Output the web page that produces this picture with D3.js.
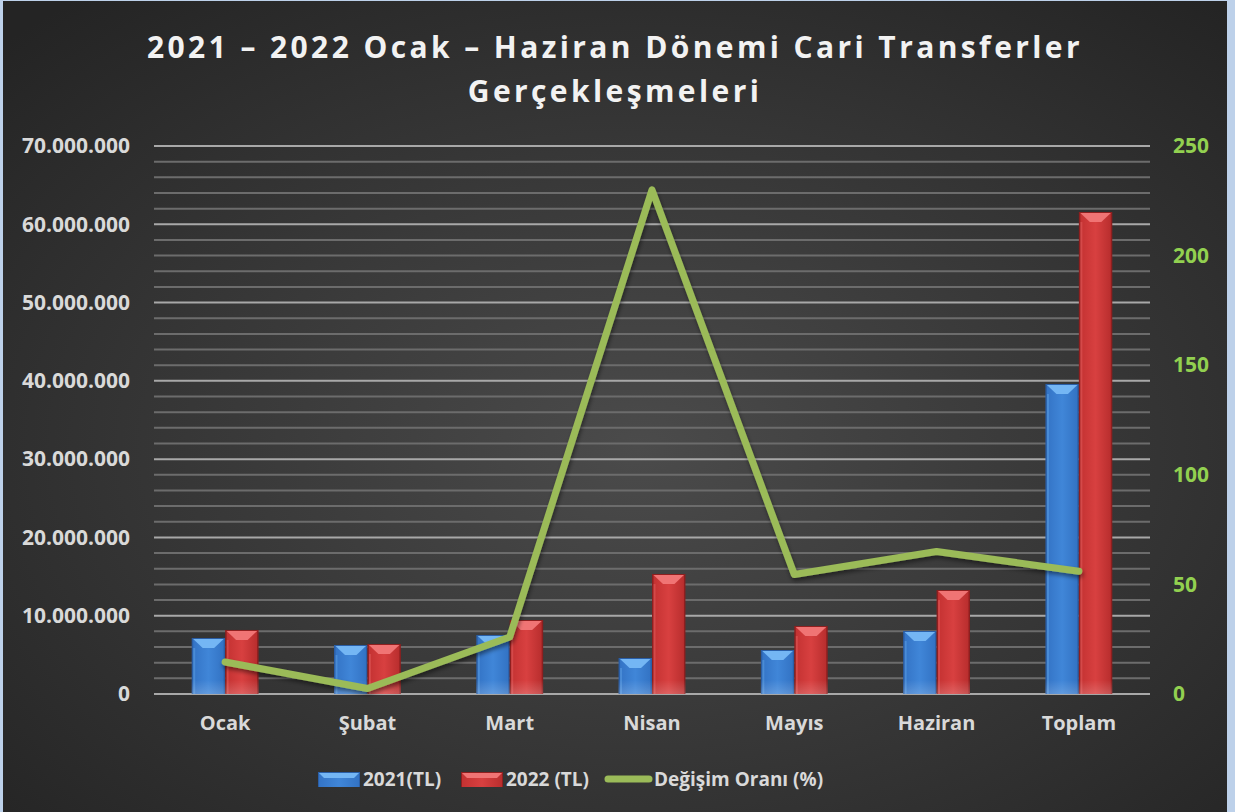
<!DOCTYPE html>
<html>
<head>
<meta charset="utf-8">
<script src="https://cdn.jsdelivr.net/npm/d3@7"></script>
<style>
  html, body { margin: 0; padding: 0; background: #bdd1ea; }
  #chart { width: 1235px; height: 812px; }
  text { font-family: "Open Sans", sans-serif; font-weight: bold; }
</style>
</head>
<body>
<div id="chart"></div>
<script>
// values
const categories = ["Ocak", "Şubat", "Mart", "Nisan", "Mayıs", "Haziran", "Toplam"];
const values2021 = [7150000, 6260000, 7540000, 4600000, 5620000, 8050000, 39600000];
const values2022 = [8180000, 6390000, 9450000, 15330000, 8690000, 13280000, 61570000];
const changePct = [14.6, 2.5, 26, 230, 54.5, 65, 56];
const seriesNames = ["2021(TL)", "2022 (TL)", "Değişim Oranı (%)"];
const titleLines = ["2021 – 2022 Ocak – Haziran Dönemi Cari Transferler", "Gerçekleşmeleri"];

const W = 1235, H = 812;
const margin = { top: 146, right: 85, bottom: 118, left: 154 };
const width = W - margin.left - margin.right,
      height = H - margin.top - margin.bottom;

const trLocale = d3.formatLocale({ decimal: ",", thousands: ".", grouping: [3], currency: ["", " TL"] });
const fmt = trLocale.format(",d");

const svg = d3.select("#chart").append("svg")
    .attr("width", W).attr("height", H);

const defs = svg.append("defs");
const bg = defs.append("radialGradient").attr("id", "bg")
    .attr("cx", "52%").attr("cy", "55%").attr("r", "72%");
bg.append("stop").attr("offset", "0%").attr("stop-color", "#4b4b4b");
bg.append("stop").attr("offset", "100%").attr("stop-color", "#242424");

function barGrad(id, c0, c1, c2) {
    const g = defs.append("linearGradient").attr("id", id)
        .attr("x1", "0%").attr("x2", "100%").attr("y1", "0%").attr("y2", "0%");
    g.append("stop").attr("offset", "0%").attr("stop-color", c0);
    g.append("stop").attr("offset", "50%").attr("stop-color", c1);
    g.append("stop").attr("offset", "100%").attr("stop-color", c2);
}
barGrad("blueG", "#3474c6", "#4086d8", "#3373c4");
barGrad("redG", "#c43232", "#d84040", "#b92e2e");

// soft fade at the foot of each bar
const fade = defs.append("linearGradient").attr("id", "fade")
    .attr("x1", "0%").attr("x2", "0%").attr("y1", "0%").attr("y2", "100%");
fade.append("stop").attr("offset", "0%").attr("stop-color", "#fff").attr("stop-opacity", 0);
fade.append("stop").attr("offset", "100%").attr("stop-color", "#fff").attr("stop-opacity", 0.18);

const shadow = defs.append("filter").attr("id", "shadow")
    .attr("x", "-10%").attr("y", "-10%").attr("width", "120%").attr("height", "130%");
shadow.append("feDropShadow").attr("dx", 1).attr("dy", 3).attr("stdDeviation", 2)
    .attr("flood-color", "#000").attr("flood-opacity", 0.45);

// chart area (blue strip left / right is the page background)
svg.append("rect").attr("x", 3).attr("y", 1).attr("width", 1224).attr("height", H)
    .attr("fill", "url(#bg)");

// title
svg.append("g").selectAll("text")
    .data(titleLines)
    .join("text")
    .attr("x", 615)
    .attr("y", (d, i) => 58 + i * 44)
    .attr("text-anchor", "middle")
    .attr("fill", "#f2f2f2")
    .attr("font-size", 30)
    .attr("letter-spacing", 3.4)
    .text(d => d);

const g = svg.append("g").attr("transform", `translate(${margin.left},${margin.top})`);

const y = d3.scaleLinear().domain([0, 70000000]).range([height, 0]);
const y2 = d3.scaleLinear().domain([0, 250]).range([height, 0]);
const x0 = d3.scaleBand().domain(categories).range([0, width]).paddingInner(0.53).paddingOuter(0.265);
const x1 = d3.scaleBand().domain([0, 1]).range([0, x0.bandwidth()]);

// gridlines: minor every 2M, major every 10M
const minor = d3.range(0, 70000001, 2000000);
g.append("g").selectAll("line")
    .data(minor)
    .join("line")
    .attr("x1", 0).attr("x2", width)
    .attr("y1", d => y(d)).attr("y2", d => y(d))
    .attr("stroke", d => d % 10000000 === 0 ? "#a8a8a8" : "#6c6c6c")
    .attr("stroke-width", 2);

// left axis
const yAxis = g.append("g").call(d3.axisLeft(y).tickValues(d3.range(0, 70000001, 10000000)).tickFormat(fmt).tickSize(0).tickPadding(24));
yAxis.select(".domain").remove();
yAxis.selectAll("text").attr("fill", "#d9d9d9").attr("font-size", 21)
    .attr("font-family", "'Open Sans', sans-serif").attr("font-weight", "bold");

// right axis
const y2Axis = g.append("g").attr("transform", `translate(${width},0)`)
    .call(d3.axisRight(y2).ticks(5).tickSize(0).tickPadding(23));
y2Axis.select(".domain").remove();
y2Axis.selectAll("text").attr("fill", "#92d050").attr("font-size", 21)
    .attr("font-family", "'Open Sans', sans-serif").attr("font-weight", "bold");

// category axis
const xAxis = g.append("g").attr("transform", `translate(0,${height})`)
    .call(d3.axisBottom(x0).tickSize(0).tickPadding(22));
xAxis.select(".domain").remove();
xAxis.selectAll("text").attr("fill", "#d9d9d9").attr("font-size", 20)
    .attr("font-family", "'Open Sans', sans-serif").attr("font-weight", "bold");

// bars with a bevel look
const barData = [];
categories.forEach((c, i) => {
    barData.push({ cat: c, s: 0, v: values2021[i] });
    barData.push({ cat: c, s: 1, v: values2022[i] });
});
const styles = [
    { fill: "url(#blueG)", edge: "#2a5ea6", top: "#74b6f4", side: "#2f68b4" },
    { fill: "url(#redG)", edge: "#8e1f1f", top: "#f07474", side: "#a82a2a" }
];

const bars = g.append("g").selectAll("g")
    .data(barData)
    .join("g")
    .attr("transform", d => `translate(${x0(d.cat) + x1(d.s)},0)`);

bars.append("rect")
    .attr("x", 0).attr("y", d => y(d.v))
    .attr("width", x1.bandwidth()).attr("height", d => height - y(d.v))
    .attr("fill", d => styles[d.s].edge);
bars.append("rect")
    .attr("x", 1.5).attr("y", d => y(d.v) + 1)
    .attr("width", x1.bandwidth() - 3).attr("height", d => height - y(d.v) - 1)
    .attr("fill", d => styles[d.s].fill);
bars.append("path")
    .attr("d", d => {
        const w = x1.bandwidth(), t = y(d.v) + 1, b = Math.min(9, (height - y(d.v)) / 2);
        return `M1.5,${t}L${w - 1.5},${t}L${w - 11},${t + b}L11,${t + b}Z`;
    })
    .attr("fill", d => styles[d.s].top);
bars.append("rect")
    .attr("x", 1.5).attr("y", d => y(d.v) + 10)
    .attr("width", 2).attr("height", d => Math.max(0, height - y(d.v) - 10))
    .attr("fill", d => styles[d.s].top).attr("opacity", 0.35);
bars.append("rect")
    .attr("x", 0).attr("y", d => Math.max(y(d.v) + 10, height - 14))
    .attr("width", x1.bandwidth()).attr("height", d => height - Math.max(y(d.v) + 10, height - 14))
    .attr("fill", "url(#fade)");

// change line
const line = d3.line()
    .x((d, i) => x0(categories[i]) + x0.bandwidth() / 2)
    .y(d => y2(d));
g.append("path")
    .datum(changePct)
    .attr("d", line)
    .attr("fill", "none")
    .attr("stroke", "#9bbb59")
    .attr("stroke-width", 7)
    .attr("stroke-linejoin", "round")
    .attr("stroke-linecap", "round")
    .attr("filter", "url(#shadow)");

// legend
const legend = svg.append("g").attr("transform", "translate(0,779)");
const legItems = [
    { x: 318, type: "bar", s: 0, text: seriesNames[0] },
    { x: 461, type: "bar", s: 1, text: seriesNames[1] },
    { x: 605, type: "line", text: seriesNames[2] }
];
legItems.forEach(it => {
    if (it.type === "bar") {
        legend.append("rect").attr("x", it.x).attr("y", -7).attr("width", 42).attr("height", 15)
            .attr("fill", styles[it.s].edge);
        legend.append("rect").attr("x", it.x + 1).attr("y", -6).attr("width", 40).attr("height", 14)
            .attr("fill", styles[it.s].fill);
        legend.append("path")
            .attr("d", `M${it.x + 1},-6L${it.x + 41},-6L${it.x + 36},-1L${it.x + 6},-1Z`)
            .attr("fill", styles[it.s].top);
    } else {
        legend.append("line").attr("x1", it.x + 3).attr("x2", it.x + 44)
            .attr("y1", 0).attr("y2", 0)
            .attr("stroke", "#9bbb59").attr("stroke-width", 7).attr("stroke-linecap", "round");
    }
    legend.append("text")
        .attr("x", it.type === "bar" ? it.x + 45 : it.x + 49)
        .attr("y", 7)
        .attr("fill", "#d9d9d9")
        .attr("font-size", 19)
        .text(it.text);
});
</script>
</body>
</html>
